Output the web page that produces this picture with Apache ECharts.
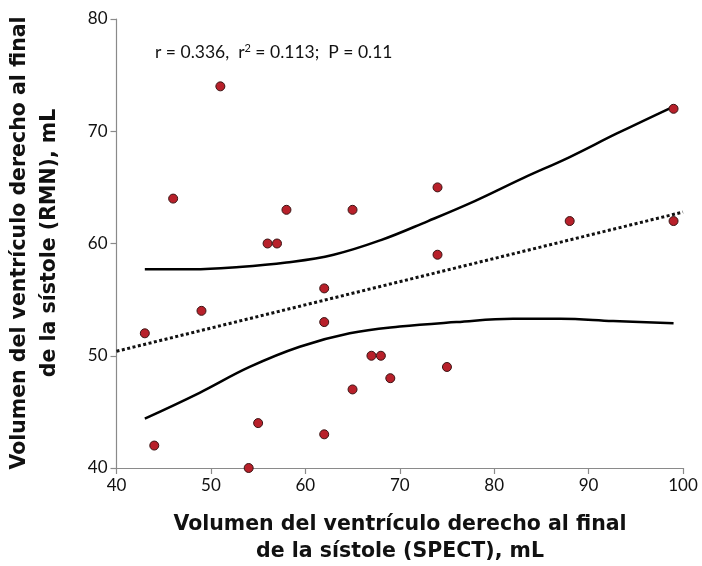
<!DOCTYPE html>
<html><head><meta charset="utf-8">
<script src="https://cdn.jsdelivr.net/npm/echarts@6/dist/echarts.min.js"></script>
<style>html,body{margin:0;padding:0;background:#fff}#c{width:702px;height:566px}</style>
</head><body><div id="c"></div>
<script>
// SPECT (x) vs RMN (y) end-systolic RV volume, mL
var spectX = [43,44,46,49,51,54,55,56,57,58,62,62,62,65,65,67,68,69,74,74,75,88,99,99];
var rmnY   = [52,42,64,54,74,40,44,60,60,63,56,53,43,63,47,50,50,48,65,59,49,62,72,62];
// regression line endpoints
var regX = [40, 100];
var regY = [50.4, 62.8];
// upper and lower confidence bands
var upperX = [43, 48, 53, 58, 63, 68, 73, 78, 83, 88, 93, 99];
var upperY = [57.7, 57.7, 57.9, 58.3, 59.0, 60.3, 62.0, 63.8, 65.8, 67.7, 69.8, 72.2];
var lowerX = [43, 48.8, 54.1, 59.4, 64.7, 70, 76, 82, 87, 92.6, 99];
var lowerY = [44.4, 46.7, 49.0, 50.8, 52.0, 52.6, 53.0, 53.3, 53.3, 53.1, 52.9];
var xTicks = [40, 50, 60, 70, 80, 90, 100];
var yTicks = [40, 50, 60, 70, 80];
var xTitle = 'Volumen del ventrículo derecho al final\nde la sístole (SPECT), mL';
var yTitle = 'Volumen del ventrículo derecho al final\nde la sístole (RMN), mL';

function zip(a, b) { return a.map(function (v, i) { return [v, b[i]]; }); }

var chart = echarts.init(document.getElementById('c'), null, {renderer: 'canvas'});
var axisCommon = {
  axisLine: {show: true, lineStyle: {color: '#8a8a8a', width: 1.2}},
  axisTick: {show: true, length: 6, lineStyle: {color: '#8a8a8a', width: 1.2}},
  splitLine: {show: false},
  axisLabel: {color: '#111', fontFamily: 'Lato', fontSize: 17, margin: 9}
};
var titleFont = {fontFamily: 'DejaVu Sans', fontWeight: 'bold', fontSize: 20.5, fill: '#111'};
chart.setOption({
  animation: false,
  grid: {left: 116.5, right: 19, top: 19, bottom: 98},
  xAxis: Object.assign({type: 'value', min: xTicks[0], max: xTicks[xTicks.length - 1], interval: 10}, axisCommon),
  yAxis: Object.assign({type: 'value', min: yTicks[0], max: yTicks[yTicks.length - 1], interval: 10}, axisCommon),
  graphic: [
    {type: 'text', x: 155, y: 52, style: {
      text: 'r = 0.336,  r{sup|2} = 0.113;  P = 0.11',
      rich: {sup: {fontSize: 11, verticalAlign: 'top', padding: [0, 0, 8, 0], fontFamily: 'Lato', fill: '#111'}},
      fontFamily: 'Lato', fontSize: 17.5, fill: '#111', textVerticalAlign: 'middle', textAlign: 'left'}},
    {type: 'text', x: 400, y: 538, style: Object.assign({text: xTitle, lineHeight: 27, textAlign: 'center', textVerticalAlign: 'middle'}, titleFont)},
    {type: 'text', x: 35, y: 243, rotation: Math.PI / 2, style: Object.assign({text: yTitle, lineHeight: 30, textAlign: 'center', textVerticalAlign: 'middle'}, titleFont)}
  ],
  series: [
    {type: 'line', data: zip(upperX, upperY), smooth: 0.4, showSymbol: false, lineStyle: {color: '#000', width: 2.5}, z: 2},
    {type: 'line', data: zip(lowerX, lowerY), smooth: 0.4, showSymbol: false, lineStyle: {color: '#000', width: 2.5}, z: 2},
    {type: 'line', data: zip(regX, regY), showSymbol: false, lineStyle: {color: '#111', width: 3, type: [3, 2.5]}, z: 2},
    {type: 'scatter', data: zip(spectX, rmnY), symbolSize: 9, itemStyle: {color: '#b8202a', borderColor: '#3a1414', borderWidth: 1, opacity: 1}, z: 3}
  ]
});
</script></body></html>
